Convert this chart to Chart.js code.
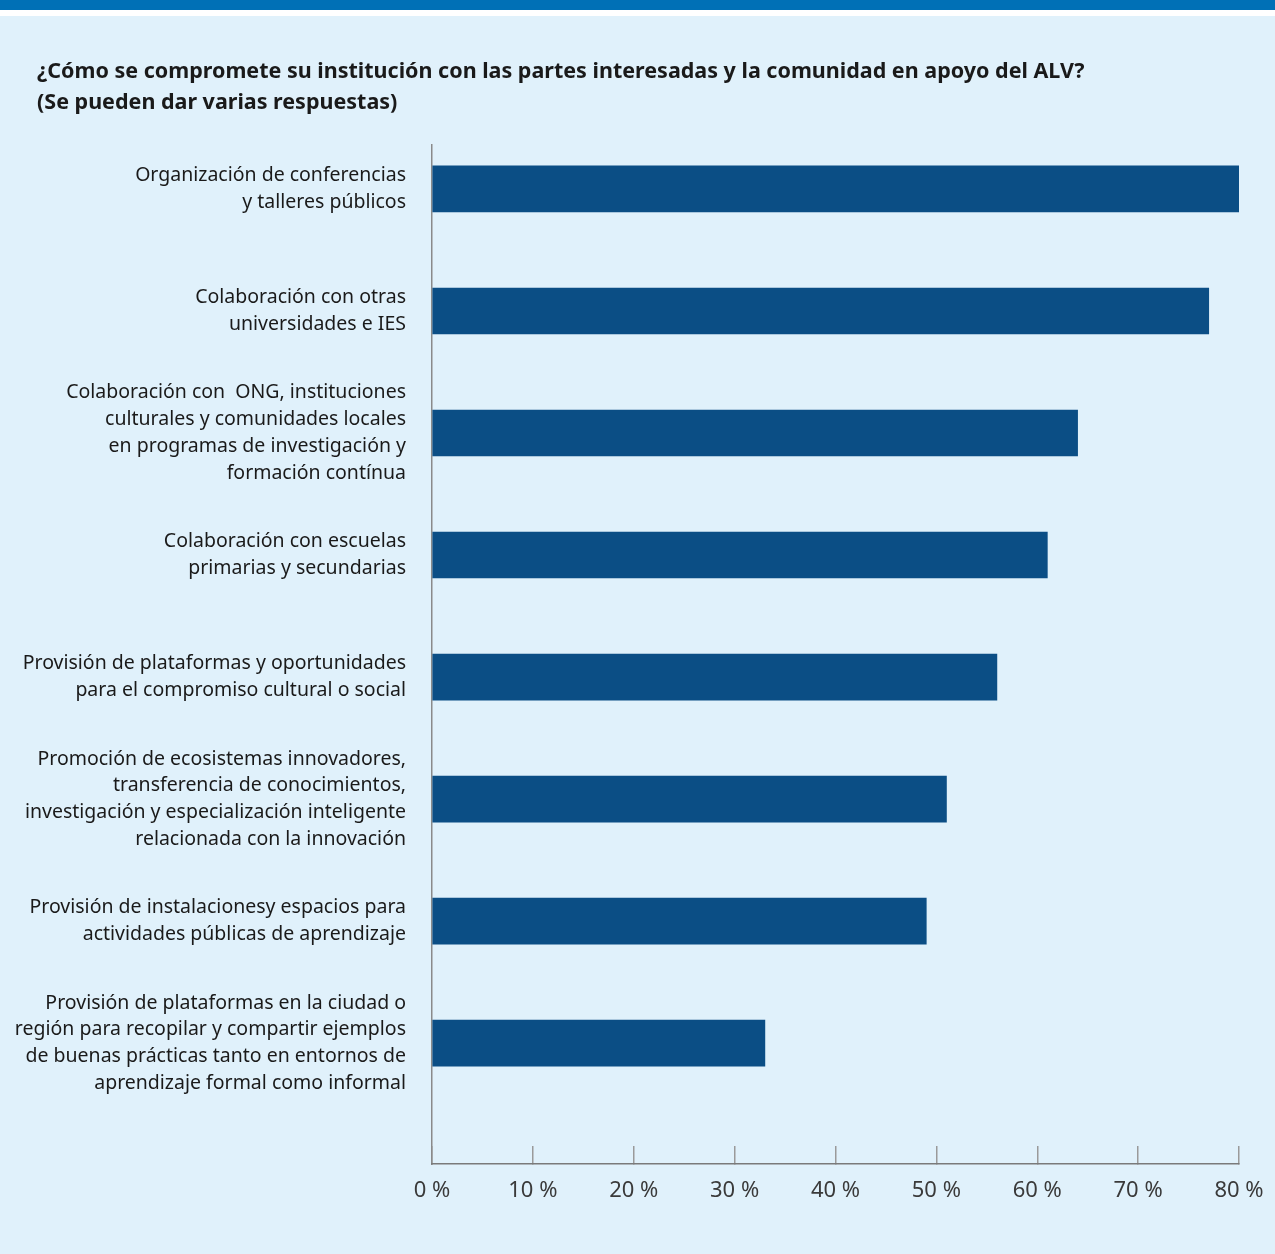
<!DOCTYPE html>
<html lang="es">
<head>
<meta charset="utf-8">
<script src="https://cdn.jsdelivr.net/npm/chart.js@4"></script>
<style>
  html, body { margin: 0; padding: 0; background: #ffffff; }
  #topbar { height: 10px; background: #0070b6; }
  #gap { height: 6px; background: #ffffff; }
  #panel { position: relative; width: 1275px; height: 1238px; background: #e0f1fb; }
  #title {
    position: absolute; left: 37px; top: 38px; margin: 0;
    font: bold 21.5px/31px 'Noto Sans', 'Open Sans', sans-serif;
    color: #1a1a1a; white-space: nowrap;
  }
  canvas { display: block; }
</style>
</head>
<body>
<div id="topbar"></div>
<div id="gap"></div>
<div id="panel">
  <div id="title"></div>
  <canvas id="chart" width="1275" height="1238"></canvas>
</div>
<script>
"use strict";
const titleLines = [
    "¿Cómo se compromete su institución con las partes interesadas y la comunidad en apoyo del ALV?",
    "(Se pueden dar varias respuestas)"
];
const categories = [
    ["Organización de conferencias", "y talleres públicos"],
    ["Colaboración con otras", "universidades e IES"],
    ["Colaboración con  ONG, instituciones", "culturales y comunidades locales", "en programas de investigación y", "formación contínua"],
    ["Colaboración con escuelas", "primarias y secundarias"],
    ["Provisión de plataformas y oportunidades", "para el compromiso cultural o social"],
    ["Promoción de ecosistemas innovadores,", "transferencia de conocimientos,", "investigación y especialización inteligente", "relacionada con la innovación"],
    ["Provisión de instalacionesy espacios para", "actividades públicas de aprendizaje"],
    ["Provisión de plataformas en la ciudad o", "región para recopilar y compartir ejemplos", "de buenas prácticas tanto en entornos de", "aprendizaje formal como informal"]
];
const values = [80, 77, 64, 61, 56, 51, 49, 33];
const xTicks = [0, 10, 20, 30, 40, 50, 60, 70, 80];

const FONT = "'Noto Sans', 'Open Sans', sans-serif";

// title sits above the canvas as plain text
const titleEl = document.getElementById("title");
titleLines.forEach((line, i) => {
    if (i > 0) titleEl.appendChild(document.createElement("br"));
    titleEl.appendChild(document.createTextNode(line));
});

const ctx = document.getElementById("chart").getContext("2d");

const chart = new Chart(ctx, {
    type: "bar",
    data: {
        datasets: [{
            data: values.map((v, i) => ({ x: v, y: i })),
            backgroundColor: "#0b4e85",
            borderWidth: 0,
            barThickness: 46
        }]
    },
    options: {
        indexAxis: "y",
        responsive: false,
        animation: false,
        layout: { padding: { left: 0, right: 36, top: 129, bottom: 30 } },
        plugins: {
            legend: { display: false },
            tooltip: { enabled: false },
            title: { display: false }
        },
        scales: {
            y: {
                type: "linear",
                reverse: true,
                offset: false,
                min: -0.36,
                max: 7.99,
                afterBuildTicks: (axis) => axis.ticks = categories.map((c, i) => ({ value: i })),
                afterFit: (axis) => { axis.width = 432; },
                ticks: {
                    callback: (value) => categories[value],
                    color: "#1a1a1a",
                    padding: 26,
                    font: { family: FONT, size: 19.5, lineHeight: 1.37 }
                },
                grid: { display: false, drawTicks: false, offset: false },
                border: { display: true, color: "#8a8a8a", width: 1.5 }
            },
            x: {
                type: "linear",
                min: 0,
                max: 80,
                afterBuildTicks: (axis) => axis.ticks = xTicks.map(v => ({ value: v })),
                afterFit: (axis) => {
                    axis.height = 60;
                    axis.paddingLeft = 0;
                    axis.paddingRight = 0;
                },
                ticks: {
                    callback: (value) => value + " %",
                    color: "#3a3a3a",
                    padding: 32,
                    maxRotation: 0,
                    font: { family: FONT, size: 22, lineHeight: 1.2 }
                },
                grid: {
                    drawOnChartArea: false,
                    drawTicks: true,
                    tickLength: -18,
                    color: "#9a9a9a",
                    lineWidth: 1.5
                },
                border: { display: true, color: "#7a7a7a", width: 1.5 }
            }
        }
    }
});
</script>
</body>
</html>
